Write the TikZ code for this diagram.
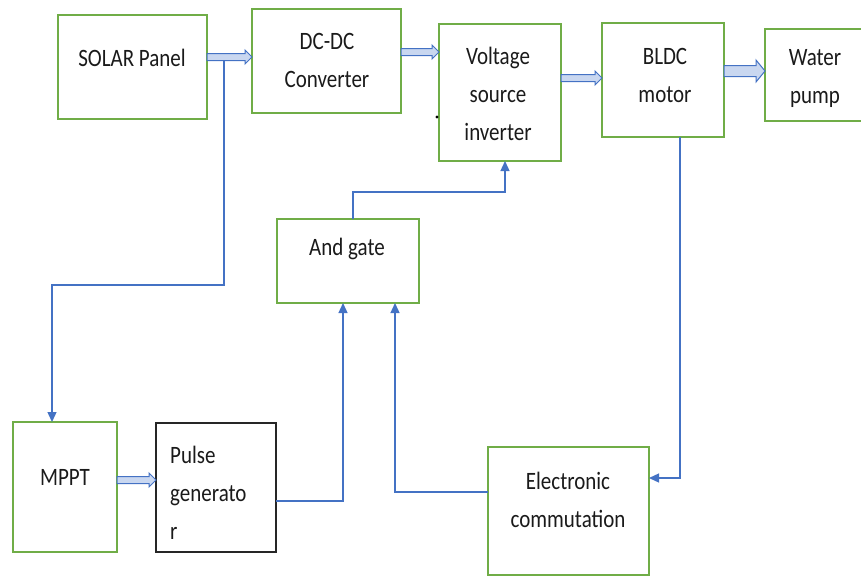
\documentclass[tikz,border=0pt]{standalone}
\usepackage{fontspec}
\setmainfont{Carlito}[FakeStretch=0.84]
\usetikzlibrary{calc,arrows.meta}
\definecolor{gbox}{HTML}{70AD47}
\definecolor{bl}{HTML}{4472C4}
\definecolor{blfill}{HTML}{C9D7F0}
\definecolor{txt}{HTML}{1A1A1A}
\newcommand\hollowarrow[5]{%
  \draw[hollow] let \p1=#1, \p2=#2 in
    (\x1,\y1+#3) -- (\x2-#5,\y1+#3) -- (\x2-#5,\y1+#4) -- (\x2,\y1)
    -- (\x2-#5,\y1-#4) -- (\x2-#5,\y1-#3) -- (\x1,\y1-#3) -- cycle;}
\begin{document}
\begin{tikzpicture}[x=1pt,y=-1pt,
  box/.style={draw=gbox,line width=1.4pt,inner sep=0pt,outer sep=0pt},
  blackbox/.style={draw=black!85,line width=1.4pt,inner sep=0pt,outer sep=0pt},
  lbl/.style={text=txt,font=\fontsize{25}{38}\selectfont,align=center,inner sep=0pt},
  conn/.style={draw=bl,line width=1.3pt,-{Triangle[length=10pt,width=9pt]}},
  hollow/.style={draw=bl,fill=blfill,line width=1pt,line join=miter}]
\useasboundingbox (0,0) rectangle (861,576);
% boxes
\node[box,minimum width=149pt,minimum height=104pt] (solar) at (132.5,67) {};
\node[box,minimum width=149pt,minimum height=104pt] (dc) at (326.5,61) {};
\node[box,minimum width=122pt,minimum height=137pt] (vsi) at (500,92.5) {};
\node[box,minimum width=122pt,minimum height=114pt] (bldc) at (663,80) {};
\node[box,minimum width=135pt,minimum height=92pt] (water) at (832.5,75) {};
\node[box,minimum width=142pt,minimum height=84pt] (and) at (348,261) {};
\node[box,minimum width=104pt,minimum height=130pt] (mppt) at (65,487) {};
\node[blackbox,minimum width=120pt,minimum height=129pt] (pulse) at (216,487.5) {};
\node[box,minimum width=161pt,minimum height=128pt] (elec) at (568.5,511) {};
% labels
\node[lbl] (solarT) at (132,58) {SOLAR Panel};
\node[lbl] (dcT) at (327,60) {DC-DC\\Converter};
\node[lbl] (vsiT) at (498,94) {Voltage\\source\\inverter};
\node[lbl] (bldcT) at (665,75) {BLDC\\motor};
\node[lbl] (waterT) at (815,78) {Water\\pump};
\node[lbl] (andT) at (347,249) {And gate};
\node[lbl] (mpptT) at (65,477) {MPPT};
\node[lbl,align=left,anchor=west] (pulseT) at (170,493) {Pulse\\generato\\r};
\node[lbl] (elecT) at (568,500) {Electronic\\commutation};
% dot
\fill[black] (437,117) circle (1.6pt);
% thin connectors
\coordinate (tap) at (224,57);
\draw[conn] (tap) -- (224,285) -- (52,285) -- ($(mppt.north)+(-13,0)$);
\draw[conn] ($(pulse.east)+(0,13.5)$) -- (343,501) -- ($(and.south)+(-5,0)$);
\draw[conn] ($(elec.west)+(0,-19)$) -- (395,492) -- ($(and.south)+(47,0)$);
\draw[conn] ($(and.north)+(5,0)$) -- (353,192) -- (505,192) -- ($(vsi.south)+(5,0)$);
\draw[conn] ($(bldc.south)+(17,0)$) -- (680,478) -- ($(elec.east)+(0,-33)$);
% hollow arrows
\hollowarrow{(solar.east |- 0,57)}{(dc.west |- 0,57)}{3.5pt}{7pt}{7pt}
\hollowarrow{(dc.east |- 0,52)}{(vsi.west |- 0,52)}{3.5pt}{7pt}{7pt}
\hollowarrow{(vsi.east |- 0,78)}{(bldc.west |- 0,78)}{3.5pt}{7pt}{7pt}
\hollowarrow{(bldc.east |- 0,71)}{(water.west |- 0,71)}{5.5pt}{11pt}{9pt}
\hollowarrow{(mppt.east |- 0,480)}{(pulse.west |- 0,480)}{3.5pt}{7pt}{7pt}
\end{tikzpicture}
\end{document}
